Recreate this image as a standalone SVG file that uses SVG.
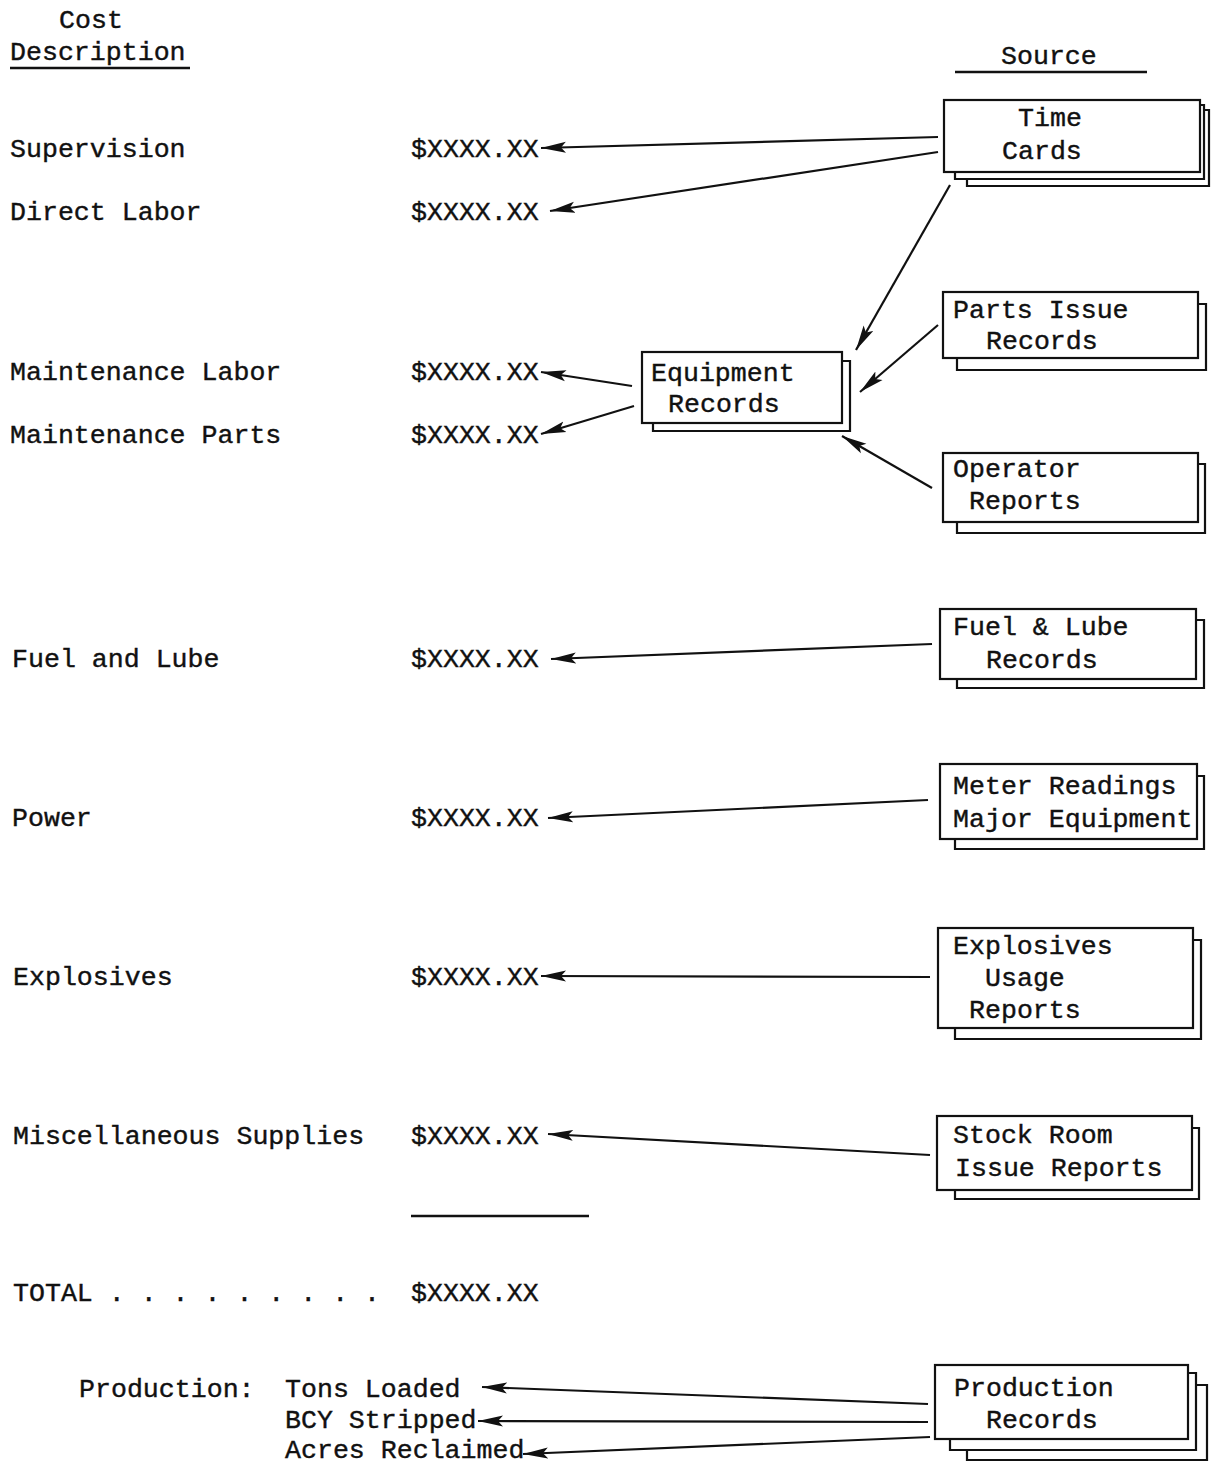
<svg xmlns="http://www.w3.org/2000/svg" width="1212" height="1465" viewBox="0 0 1212 1465">
<style>
text{font-family:"Liberation Mono","DejaVu Sans Mono",monospace;font-size:26.6px;fill:#111;stroke:#111;stroke-width:0.4;}
.box{fill:#fff;stroke:#111;stroke-width:2.2;}
.sheet{fill:none;stroke:#111;stroke-width:2.2;}
.conn line{stroke:#111;stroke-width:2.2;marker-end:url(#ah);}
.rule{stroke:#111;stroke-width:2.5;}
</style>
<defs>
<marker id="ah" markerUnits="userSpaceOnUse" markerWidth="28" markerHeight="14" refX="25" refY="6" orient="auto">
<path d="M0,0.5 L25,6 L0,11.5 L5,6 z" fill="#111"/>
</marker>
</defs>
<rect width="1212" height="1465" fill="#fff"/>

<g id="headers">
<text x="59" y="28">Cost</text>
<text x="10" y="60">Description</text>
<line class="rule" x1="10" y1="68" x2="190" y2="68"/>
<text x="1001" y="64">Source</text>
<line class="rule" x1="955" y1="72" x2="1147" y2="72"/>
</g>

<g id="cost-items">
<text x="10" y="157">Supervision</text>
<text x="411" y="157">$XXXX.XX</text>
<text x="10" y="220">Direct Labor</text>
<text x="411" y="220">$XXXX.XX</text>
<text x="10" y="380">Maintenance Labor</text>
<text x="411" y="380">$XXXX.XX</text>
<text x="10" y="443">Maintenance Parts</text>
<text x="411" y="443">$XXXX.XX</text>
<text x="12" y="667">Fuel and Lube</text>
<text x="411" y="667">$XXXX.XX</text>
<text x="12" y="826">Power</text>
<text x="411" y="826">$XXXX.XX</text>
<text x="13" y="985">Explosives</text>
<text x="411" y="985">$XXXX.XX</text>
<text x="13" y="1144">Miscellaneous Supplies</text>
<text x="411" y="1144">$XXXX.XX</text>
<line class="rule" x1="411" y1="1216" x2="589" y2="1216"/>
<text x="13" y="1301">TOTAL . . . . . . . . .</text>
<text x="411" y="1301">$XXXX.XX</text>
</g>

<g id="production">
<text x="79" y="1397">Production:</text>
<text x="285" y="1428">BCY Stripped</text>
<text x="285" y="1397">Tons Loaded</text>
<text x="285" y="1458">Acres Reclaimed</text>
</g>

<g id="time-cards">
<polyline class="sheet" points="967,179 967,186 1209,186 1209,110 1204,110"/>
<polyline class="sheet" points="955,172 955,179 1204,179 1204,105 1200,105"/>
<rect class="box" x="944" y="100" width="256" height="72"/>
<text x="1018" y="126">Time</text>
<text x="1002" y="159">Cards</text>
</g>

<g id="parts-issue-records">
<polyline class="sheet" points="957,358 957,370 1206,370 1206,304 1198,304"/>
<rect class="box" x="943" y="292" width="255" height="66"/>
<text x="953" y="318">Parts Issue</text>
<text x="986" y="349">Records</text>
</g>

<g id="equipment-records">
<polyline class="sheet" points="653,423 653,431 850,431 850,361 842,361"/>
<rect class="box" x="642" y="352" width="200" height="71"/>
<text x="651" y="381">Equipment</text>
<text x="668" y="412">Records</text>
</g>

<g id="operator-reports">
<polyline class="sheet" points="957,522 957,533 1205,533 1205,464 1198,464"/>
<rect class="box" x="943" y="453" width="255" height="69"/>
<text x="953" y="477">Operator</text>
<text x="969" y="509">Reports</text>
</g>

<g id="fuel-lube-records">
<polyline class="sheet" points="957,679 957,688 1204,688 1204,620 1196,620"/>
<rect class="box" x="940" y="609" width="256" height="70"/>
<text x="953" y="635">Fuel &amp; Lube</text>
<text x="986" y="668">Records</text>
</g>

<g id="meter-readings">
<polyline class="sheet" points="955,839 955,849 1204,849 1204,776 1197,776"/>
<rect class="box" x="940" y="764" width="257" height="75"/>
<text x="953" y="794">Meter Readings</text>
<text x="953" y="827">Major Equipment</text>
</g>

<g id="explosives-usage-reports">
<polyline class="sheet" points="955,1028 955,1039 1201,1039 1201,940 1193,940"/>
<rect class="box" x="938" y="928" width="255" height="100"/>
<text x="953" y="954">Explosives</text>
<text x="985" y="986">Usage</text>
<text x="969" y="1018">Reports</text>
</g>

<g id="stock-room-issue-reports">
<polyline class="sheet" points="955,1190 955,1199 1199,1199 1199,1128 1192,1128"/>
<rect class="box" x="937" y="1116" width="255" height="74"/>
<text x="953" y="1143">Stock Room</text>
<text x="955" y="1176">Issue Reports</text>
</g>

<g id="production-records">
<polyline class="sheet" points="967,1450 967,1460 1207,1460 1207,1385 1196,1385"/>
<polyline class="sheet" points="950,1439 950,1450 1196,1450 1196,1373 1188,1373"/>
<rect class="box" x="935" y="1365" width="253" height="74"/>
<text x="954" y="1396">Production</text>
<text x="986" y="1428">Records</text>
</g>

<g id="connectors" class="conn">
<line x1="938" y1="137" x2="541" y2="148"/>
<line x1="938" y1="152" x2="550" y2="211"/>
<line x1="950" y1="185" x2="856" y2="350"/>
<line x1="938" y1="325" x2="860" y2="392"/>
<line x1="932" y1="488" x2="842" y2="436"/>
<line x1="632" y1="386" x2="541" y2="372"/>
<line x1="634" y1="406" x2="541" y2="434"/>
<line x1="932" y1="644" x2="551" y2="659"/>
<line x1="928" y1="800" x2="548" y2="818"/>
<line x1="930" y1="977" x2="541" y2="976"/>
<line x1="930" y1="1155" x2="548" y2="1134"/>
<line x1="928" y1="1404" x2="482" y2="1387"/>
<line x1="928" y1="1422" x2="478" y2="1421"/>
<line x1="930" y1="1437" x2="523" y2="1454"/>
</g>
</svg>
